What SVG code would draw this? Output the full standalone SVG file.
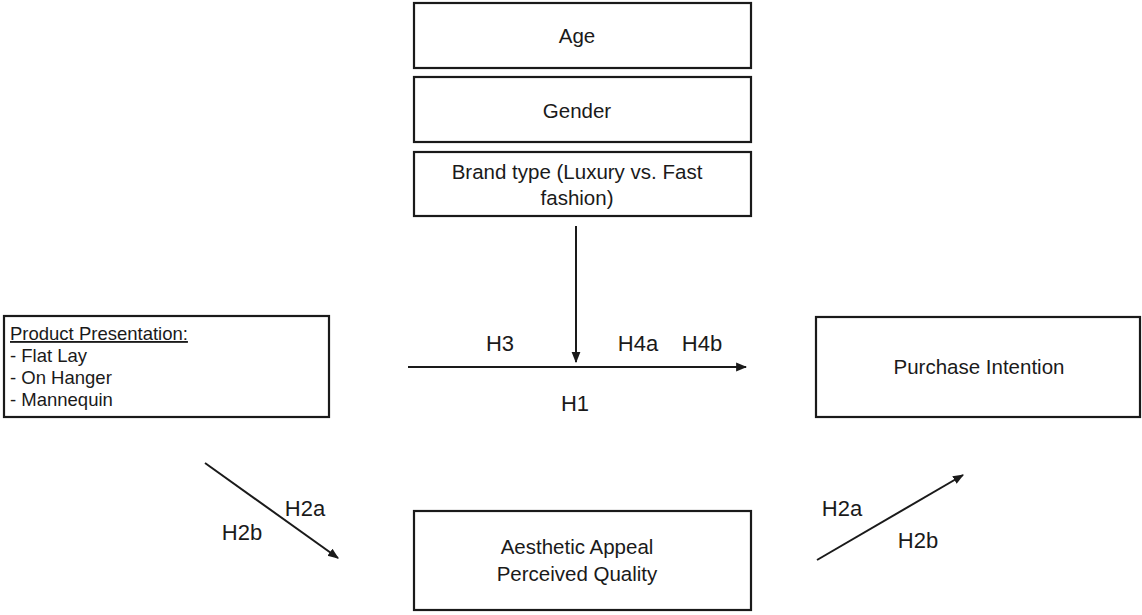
<svg xmlns="http://www.w3.org/2000/svg" width="1142" height="615" viewBox="0 0 1142 615">
<defs>
<style>
.box{fill:#fff;stroke:#1a1a1a;stroke-width:2.2}
.t{font-family:"Liberation Sans",Arial,sans-serif;font-size:20.5px;fill:#1a1a1a;text-anchor:middle}
.tl{font-family:"Liberation Sans",Arial,sans-serif;font-size:18.5px;fill:#1a1a1a}
.h{font-family:"Liberation Sans",Arial,sans-serif;font-size:22px;fill:#1a1a1a;text-anchor:middle}
.c{stroke:#1a1a1a;stroke-width:2;fill:none;marker-end:url(#ah)}
</style>
<marker id="ah" viewBox="0 0 10 10" refX="9" refY="5" markerWidth="5.5" markerHeight="5.5" orient="auto" markerUnits="strokeWidth">
<path d="M0,1 L10,5 L0,9 z" fill="#1a1a1a"/>
</marker>
</defs>
<rect width="1142" height="615" fill="#fff"/>
<g id="age"><rect class="box" x="414" y="3" width="337" height="65"/><text class="t" x="577" y="43">Age</text></g>
<g id="gender"><rect class="box" x="414" y="77" width="337" height="65"/><text class="t" x="577" y="118">Gender</text></g>
<g id="brand"><rect class="box" x="414" y="152" width="337" height="64"/><text class="t" x="577" y="179">Brand type (Luxury vs. Fast</text><text class="t" x="577" y="205">fashion)</text></g>
<g id="product"><rect class="box" x="4" y="316" width="325" height="101"/>
<text class="tl" x="10" y="340" text-decoration="underline">Product Presentation:</text>
<text class="tl" x="10" y="362">- Flat Lay</text>
<text class="tl" x="10" y="384">- On Hanger</text>
<text class="tl" x="10" y="406">- Mannequin</text></g>
<g id="purchase"><rect class="box" x="816" y="317" width="324" height="100"/><text class="t" x="979" y="374">Purchase Intention</text></g>
<g id="aesthetic"><rect class="box" x="414" y="511" width="337" height="99"/><text class="t" x="577" y="554">Aesthetic Appeal</text><text class="t" x="577" y="581">Perceived Quality</text></g>
<g id="connectors">
<line class="c" x1="576" y1="226" x2="576" y2="362"/>
<line class="c" x1="408" y1="367" x2="746" y2="367"/>
<line class="c" x1="205" y1="463" x2="338" y2="558"/>
<line class="c" x1="817" y1="560" x2="963" y2="475"/>
</g>
<g id="labels">
<text class="h" x="500" y="351">H3</text>
<text class="h" x="638" y="351">H4a</text>
<text class="h" x="702" y="351">H4b</text>
<text class="h" x="575" y="411">H1</text>
<text class="h" x="305" y="516">H2a</text>
<text class="h" x="242" y="540">H2b</text>
<text class="h" x="842" y="516">H2a</text>
<text class="h" x="918" y="548">H2b</text>
</g>
</svg>
